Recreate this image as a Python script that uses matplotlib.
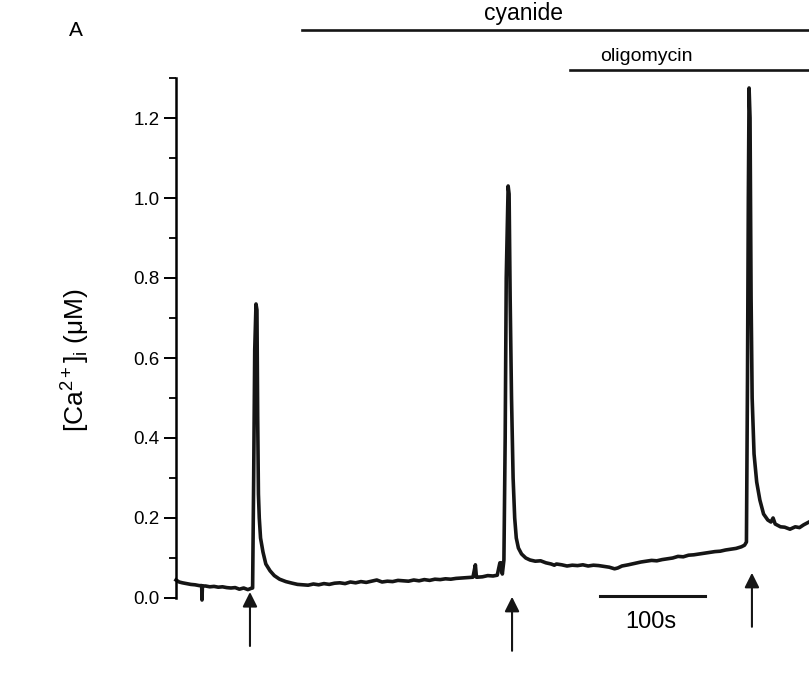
import matplotlib
matplotlib.use("Agg")
import matplotlib.pyplot as plt
from matplotlib.ticker import MultipleLocator, FormatStrFormatter

plt.rcParams['font.family'] = ['Liberation Sans', 'DejaVu Sans']
plt.rcParams['mathtext.fontset'] = 'custom'
plt.rcParams['mathtext.rm'] = 'Liberation Sans'
plt.rcParams['mathtext.it'] = 'Liberation Sans'

# ---- data (time in s, [Ca2+]i in uM) ----
time_s = [
    0, 3, 6, 10, 14, 18, 22, 24.3, 24.6, 25.0, 28, 32, 36, 40, 44, 48, 52, 56, 60, 64, 68, 71,
    72.5, 73.5, 74.5, 75.7, 76.6, 77.3, 78.0, 78.8, 80, 82.3, 85, 89, 93, 98, 104, 110, 115,
    120, 125, 130, 135, 140, 145, 150, 155, 160, 165, 170, 175, 180, 185, 190, 195, 200, 205,
    210, 215, 220, 225, 230, 235, 240, 245, 250, 255, 260, 265, 270, 275, 281, 283.3, 284.3,
    285.2, 290, 295, 300, 304, 306.5, 307.5, 308.8, 310.3, 311.5, 312.5, 314.3, 315.2, 316.2,
    317.5, 319, 320.5, 322, 324, 327, 331, 335, 340, 345, 350, 355, 358, 360, 365, 370, 375,
    380, 385, 390, 395, 400, 405, 410, 415, 418, 422, 428, 435, 440, 445, 450, 455, 460, 465,
    470, 475, 480, 485, 490, 495, 500, 505, 510, 515, 520, 525, 530, 535, 538, 539.8, 540.8,
    541.6, 542.3, 543.2, 544.2, 545.2, 547, 549.5, 552.5, 556, 560, 563, 565, 567, 572, 576,
    581, 586, 590, 594, 599,
]
calcium_uM = [
    0.045, 0.040, 0.038, 0.036, 0.034, 0.033, 0.031, 0.031, -0.005, 0.030, 0.030, 0.028, 0.029,
    0.027, 0.028, 0.026, 0.025, 0.026, 0.022, 0.025, 0.021, 0.024,
    0.025, 0.30, 0.62, 0.735, 0.72, 0.45, 0.26, 0.20, 0.15, 0.115, 0.085, 0.068, 0.056, 0.047,
    0.041, 0.037, 0.034,
    0.033, 0.032, 0.035, 0.033, 0.036, 0.034, 0.037, 0.038, 0.036, 0.040, 0.038, 0.041, 0.039,
    0.042, 0.045, 0.040, 0.042, 0.041,
    0.044, 0.043, 0.042, 0.045, 0.043, 0.046, 0.044, 0.047, 0.046, 0.048, 0.047, 0.049, 0.050,
    0.051, 0.052, 0.083, 0.052,
    0.052, 0.053, 0.056, 0.055, 0.057, 0.088, 0.088, 0.060, 0.095, 0.40, 0.80, 1.03, 1.01, 0.75,
    0.50, 0.30, 0.20, 0.15, 0.125, 0.11, 0.100, 0.095, 0.092, 0.093, 0.088, 0.085, 0.082, 0.085,
    0.083, 0.080, 0.082,
    0.081, 0.083, 0.080, 0.082, 0.081, 0.079, 0.077, 0.073, 0.075, 0.080, 0.083, 0.087, 0.090,
    0.092, 0.094, 0.093, 0.096, 0.098,
    0.100, 0.104, 0.103, 0.107, 0.108, 0.110, 0.112, 0.114, 0.116, 0.117, 0.120, 0.122, 0.124,
    0.128, 0.132, 0.140, 0.55,
    1.00, 1.275, 1.20, 0.75, 0.50, 0.36, 0.29, 0.245, 0.21, 0.195, 0.19, 0.20, 0.185, 0.178,
    0.177,
    0.172, 0.178, 0.176, 0.183, 0.19,
]

y_ticks = [0.0, 0.2, 0.4, 0.6, 0.8, 1.0, 1.2]
arrow_times = [70, 318, 545]
arrow_tips = [0.015, 0.003, 0.063]
cyanide_start = 119
oligomycin_start = 373
t_end = 599
scale_bar = [401, 501]

# ---- figure ----
fig = plt.figure(figsize=(8.09, 6.80), dpi=100)
ax = fig.add_axes([176 / 809, (680 - 598) / 680, 1 - 176 / 809, (598 - 78) / 680])

ax.plot(time_s, calcium_uM, color='#151515', lw=2.6, clip_on=False, solid_joinstyle='round')

ax.set_xlim(0, t_end)
ax.set_ylim(0, 1.3)
for s in ['top', 'right', 'bottom']:
    ax.spines[s].set_visible(False)
ax.spines['left'].set_linewidth(1.8)
ax.set_xticks([])
ax.set_yticks(y_ticks)
ax.yaxis.set_major_formatter(FormatStrFormatter('%.1f'))
ax.yaxis.set_minor_locator(MultipleLocator(0.1))
ax.tick_params(axis='y', which='major', length=9, width=1.4, labelsize=13.5, pad=3)
ax.tick_params(axis='y', which='minor', length=5, width=1.3)

# arrows
for t, tip in zip(arrow_times, arrow_tips):
    bottom = tip - 0.135
    ax.annotate('', xy=(t, tip), xytext=(t, bottom), annotation_clip=False,
                arrowprops=dict(arrowstyle='-|>', color='#151515', lw=1.5,
                                mutation_scale=22, shrinkA=0, shrinkB=0))

# drug bars
ax.plot([cyanide_start, t_end], [1.42, 1.42], color='#151515', lw=1.9, clip_on=False)
ax.text(329, 1.433, 'cyanide', ha='center', va='bottom', fontsize=16.5)
ax.plot([oligomycin_start, t_end], [1.32, 1.32], color='#151515', lw=1.9, clip_on=False)
ax.text(445, 1.333, 'oligomycin', ha='center', va='bottom', fontsize=14)

# scale bar
ax.plot(scale_bar, [0.005, 0.005], color='#151515', lw=2.2, clip_on=False)
ax.text(449, -0.032, '100s', ha='center', va='top', fontsize=17)

fig.text(76 / 809, 1 - 30 / 680, 'A', ha='center', va='center', fontsize=15)
fig.text(76 / 809, 1 - 360 / 680, r'[Ca$^{\mathregular{2+}}$]$_{\mathregular{i}}$ (μM)',
         rotation=90, ha='center', va='center', fontsize=19)

fig.savefig('out.png', dpi=100)
